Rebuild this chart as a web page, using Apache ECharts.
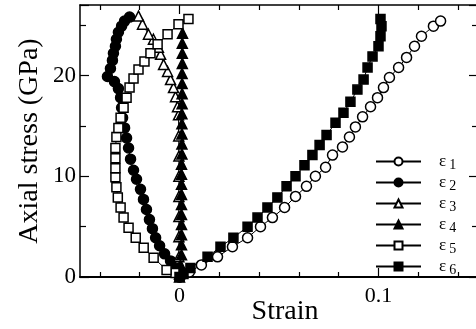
<!DOCTYPE html>
<html>
<head>
<meta charset="utf-8">
<script src="https://cdn.jsdelivr.net/npm/echarts@6/dist/echarts.min.js"></script>
<style>
  html, body { margin: 0; padding: 0; background: #fff; }
  #chart { width: 476px; height: 329px; }
</style>
</head>
<body>
<div id="chart"></div>
<script>
// strain vs axial stress (GPa)
var eps1 = [[0, 0], [0.005, 0.5], [0.011, 1.2], [0.0191, 2.0], [0.0266, 3.0], [0.0342, 3.9], [0.0407, 5.0],
  [0.0467, 5.9], [0.0528, 6.9], [0.0583, 8.0], [0.0638, 9.0], [0.0683, 10.0], [0.0734, 10.9], [0.0769, 12.1],
  [0.0819, 12.9], [0.0854, 13.9], [0.0884, 14.9], [0.092, 15.9], [0.096, 16.9], [0.0995, 17.8], [0.1025, 18.8],
  [0.1055, 19.8], [0.1101, 20.8], [0.1141, 21.8], [0.1181, 22.9], [0.1216, 23.9], [0.1276, 24.9], [0.1312, 25.4]];

var eps2 = [[0, 0], [-0.002, 0.9], [-0.0045, 1.6], [-0.0075, 2.3], [-0.010, 3.1], [-0.012, 3.9], [-0.0136, 4.8],
  [-0.0151, 5.7], [-0.0166, 6.7], [-0.0181, 7.7], [-0.0196, 8.7], [-0.0216, 9.7], [-0.0231, 10.6], [-0.0246, 11.7],
  [-0.0256, 12.8], [-0.0266, 13.8], [-0.0276, 14.8], [-0.0286, 15.8], [-0.0291, 16.8], [-0.0296, 17.8],
  [-0.0307, 18.7], [-0.0327, 19.4], [-0.0362, 19.9], [-0.0347, 20.7], [-0.0337, 21.5], [-0.0332, 22.2],
  [-0.0322, 22.9], [-0.0317, 23.6], [-0.0307, 24.3], [-0.0291, 24.9], [-0.0276, 25.4], [-0.0251, 25.8]];

var eps3 = [[0, 0], [-0.0003, 2], [-0.0003, 4], [-0.0003, 6], [-0.0003, 8], [-0.0003, 10], [-0.0003, 12],
  [-0.0004, 14], [-0.0005, 16.1], [-0.001, 16.9], [-0.002, 17.9], [-0.003, 18.8], [-0.0045, 19.6], [-0.006, 20.4],
  [-0.008, 21.1], [-0.0095, 22.1], [-0.0106, 22.8], [-0.0131, 23.6], [-0.0156, 24.1], [-0.0186, 25.1],
  [-0.0206, 25.9]];

var eps4 = [[0, 0.3], [0.0005, 1.2], [0.001, 2.2], [0.001, 3.2], [0.001, 4.2], [0.001, 5.2], [0.001, 6.2],
  [0.001, 7.2], [0.001, 8.2], [0.001, 9.2], [0.001, 10.2], [0.001, 11.2], [0.0012, 12.2], [0.0012, 13.2],
  [0.0012, 14.2], [0.0012, 15.2], [0.0012, 16.2], [0.0013, 17.2], [0.0013, 18.2], [0.0013, 19.2], [0.0013, 20.2],
  [0.0014, 21.2], [0.0014, 22.2], [0.0014, 23.2], [0.0015, 24.2]];

var eps5 = [[0, 0.1], [-0.002, 0.4], [-0.0065, 0.7], [-0.013, 1.9], [-0.018, 2.9], [-0.022, 3.9], [-0.0256, 4.9],
  [-0.0281, 5.9], [-0.0296, 6.9], [-0.031, 7.9], [-0.0317, 8.9], [-0.0322, 9.9], [-0.0322, 10.8], [-0.0322, 11.8],
  [-0.0322, 12.8], [-0.0317, 13.9], [-0.0307, 14.8], [-0.0296, 15.8], [-0.0281, 16.8], [-0.0266, 17.8],
  [-0.0251, 18.8], [-0.0231, 19.7], [-0.0206, 20.6], [-0.0176, 21.4], [-0.0146, 22.2], [-0.011, 23.1],
  [-0.006, 24.1], [-0.0005, 25.1], [0.0045, 25.6]];

var eps6 = [[0, 0], [0.002, 0.3], [0.0055, 0.9], [0.0141, 2.0], [0.0206, 3.0], [0.0271, 3.9], [0.0342, 5.0],
  [0.0392, 5.9], [0.0442, 6.9], [0.0492, 7.9], [0.0538, 9.0], [0.0583, 10.0], [0.0628, 11.1], [0.0668, 12.1],
  [0.0704, 13.1], [0.0739, 14.1], [0.0784, 15.3], [0.0824, 16.3], [0.0859, 17.4], [0.0894, 18.6], [0.0925, 19.6],
  [0.0945, 20.8], [0.097, 21.9], [0.1, 22.9], [0.101, 23.9], [0.1015, 24.9], [0.101, 25.6]];

var seriesNames = ['1', '2', '3', '4', '5', '6'];
var seriesData = [eps1, eps2, eps3, eps4, eps5, eps6];
var seriesSymbols = ['circle', 'circle', 'triangle', 'triangle', 'rect', 'rect'];
var seriesFilled = [false, true, false, true, false, true];

// ticks and labels
var xLabels = [0, 0.1];
var xMinorTicks = [-0.04, -0.02, 0.02, 0.04, 0.06, 0.08, 0.12, 0.14];
var yLabels = [0, 10, 20];

var font = '"Liberation Serif", "DejaVu Serif", serif';

function makeSeries(i) {
  return {
    name: seriesNames[i],
    type: 'line',
    data: seriesData[i],
    symbol: seriesSymbols[i],
    symbolSize: seriesSymbols[i] === 'rect' ? 9 : 10,
    showAllSymbol: true,
    lineStyle: { color: '#000', width: 1 },
    itemStyle: {
      color: seriesFilled[i] ? '#000' : '#fff',
      borderColor: '#000',
      borderWidth: 1.5
    },
    emphasis: { disabled: true }
  };
}

function xAxisPart(pos, showLine, ticks, tickLen, labels) {
  return {
    type: 'value',
    min: -0.05, max: 0.15,
    position: pos,
    axisLine: { show: showLine, onZero: false, lineStyle: { color: '#000', width: pos === 'bottom' ? 2 : 1.5 } },
    axisTick: { show: true, inside: true, length: tickLen, customValues: ticks, lineStyle: { color: '#000', width: 1.2 } },
    axisLabel: labels ? {
      color: '#000', fontFamily: font, fontSize: 22, margin: 8, customValues: labels,
      formatter: function (v) { return String(Math.round(v * 100) / 100); }
    } : { show: false },
    splitLine: { show: false }
  };
}

function yAxisPart(pos, labels) {
  return {
    type: 'value',
    min: 0, max: 27, interval: 10,
    position: pos,
    axisLine: { show: true, onZero: false, lineStyle: { color: '#000', width: 1.5 } },
    axisTick: { show: true, inside: true, length: 9, lineStyle: { color: '#000', width: 1.2 } },
    minorTick: { show: true, splitNumber: 2, length: 6, lineStyle: { color: '#000', width: 1.2 } },
    axisLabel: labels ? {
      color: '#000', fontFamily: font, fontSize: 23, margin: 4, customValues: labels
    } : { show: false },
    splitLine: { show: false }
  };
}

var chart = echarts.init(document.getElementById('chart'), null, { renderer: 'canvas' });

var xMain = xAxisPart('bottom', true, xLabels, 9, xLabels);
xMain.name = 'Strain';
xMain.nameLocation = 'middle';
xMain.nameGap = 21;
xMain.nameMoveOverlap = false;
xMain.nameTextStyle = { color: '#000', fontFamily: font, fontSize: 28, padding: [0, 0, 0, 12] };

var yMain = yAxisPart('left', yLabels);
yMain.name = 'Axial stress (GPa)';
yMain.nameLocation = 'middle';
yMain.nameRotate = 90;
yMain.nameGap = 36;
yMain.nameMoveOverlap = false;
yMain.nameTextStyle = { color: '#000', fontFamily: font, fontSize: 28 };

var option = {
  animation: false,
  backgroundColor: '#fff',
  grid: { left: 80, top: 5, width: 398, height: 272, containLabel: false, outerBoundsMode: 'none' },
  legend: {
    orient: 'vertical',
    left: 375,
    top: 151,
    padding: 0,
    itemWidth: 45,
    itemHeight: 10,
    itemGap: 0,
    data: seriesNames,
    formatter: function (name) { return '{e|ε}{s|' + name + '}'; },
    textStyle: {
      color: '#000',
      lineHeight: 21,
      rich: {
        e: { fontFamily: font, fontSize: 17, lineHeight: 21, color: '#000', verticalAlign: 'middle', padding: [0, 3, 0, 13] },
        s: { fontFamily: font, fontSize: 14, lineHeight: 14, color: '#000', verticalAlign: 'bottom' }
      }
    }
  },
  xAxis: [
    xMain,
    xAxisPart('top', true, xLabels, 9, null),
    xAxisPart('bottom', false, xMinorTicks, 5, null),
    xAxisPart('top', false, xMinorTicks, 5, null)
  ],
  yAxis: [
    yMain,
    yAxisPart('right', null)
  ],
  series: [0, 1, 2, 3, 4, 5].map(makeSeries)
};

chart.setOption(option);
</script>
</body>
</html>
